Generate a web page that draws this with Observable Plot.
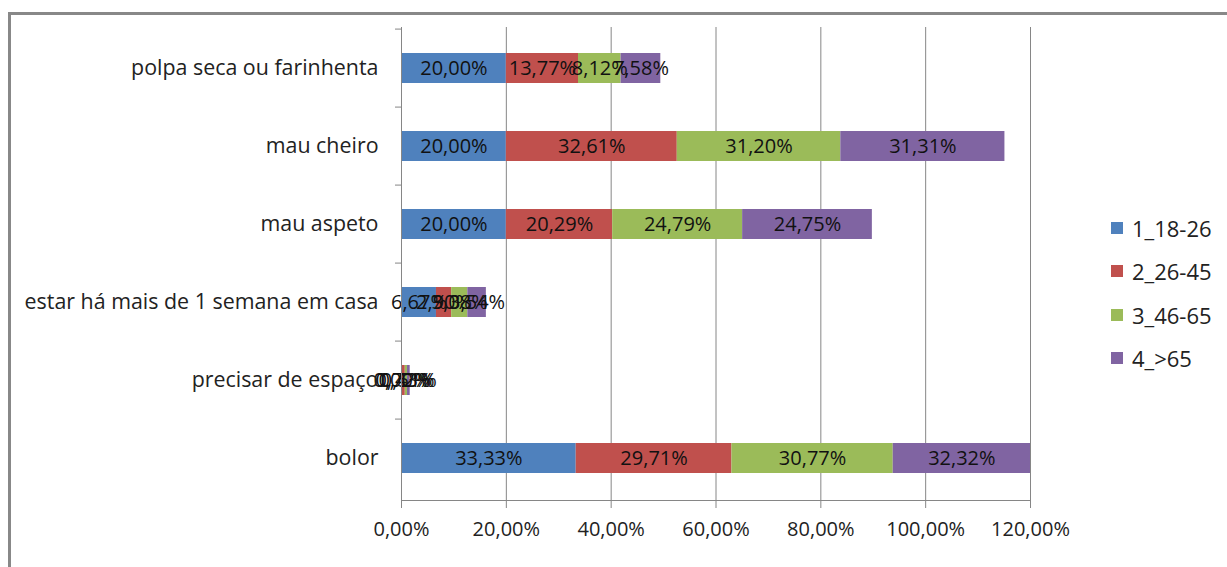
<!DOCTYPE html>
<html>
<head>
<meta charset="utf-8">
<script src="https://cdn.jsdelivr.net/npm/d3@7"></script>
<script src="https://cdn.jsdelivr.net/npm/@observablehq/plot@0.6"></script>
<style>
  html, body { margin: 0; padding: 0; background: #fff; }
  #wrap { position: relative; width: 1227px; height: 567px; overflow: hidden; font-family: "Open Sans", sans-serif; }
  #chart { position: absolute; left: 0; top: 0; }
  #border { position: absolute; left: 8px; top: 12px; width: 1300px; height: 700px; border: 3px solid #888; box-sizing: border-box; pointer-events: none; }
  #legend { position: absolute; left: 1111px; top: 206px; }
  .item { display: flex; align-items: center; height: 43.5px; font-size: 22px; color: #222; }
  .sw { width: 12px; height: 12px; margin-right: 9px; }
</style>
</head>
<body>
<div id="wrap">
  <div id="chart"></div>
  <div id="border"></div>
  <div id="legend"></div>
</div>
<script>
const categories = ["polpa seca ou farinhenta", "mau cheiro", "mau aspeto", "estar há mais de 1 semana em casa", "precisar de espaço", "bolor"];
const series = ["1_18-26", "2_26-45", "3_46-65", "4_>65"];
const colors = ["#4F81BD", "#C0504D", "#9BBB59", "#8064A2"];
const v1 = [20.00, 20.00, 20.00, 6.67, 0.00, 33.33];
const v2 = [13.77, 32.61, 20.29, 2.90, 0.72, 29.71];
const v3 = [8.12, 31.20, 24.79, 3.08, 0.43, 30.77];
const v4 = [7.58, 31.31, 24.75, 3.54, 0.51, 32.32];
const xTicks = [0, 20, 40, 60, 80, 100, 120];

const xMax = xTicks[xTicks.length - 1];
const fmt = d => d.toFixed(2).replace(".", ",") + "%";

const rows = [];
categories.forEach((c, i) => {
  let acc = 0;
  [v1, v2, v3, v4].forEach((arr, j) => {
    const x1 = acc, x2 = acc + arr[i];
    acc = x2;
    rows.push({cat: c, s: series[j], v: arr[i], x1, x2, mid: (x1 + Math.min(x2, xMax)) / 2});
  });
});

const W = 1227, H = 567, mT = 27, mB = 67;
const step = (H - mT - mB) / categories.length;

const chart = Plot.plot({
  width: W, height: H,
  marginLeft: 401, marginRight: 197, marginTop: mT, marginBottom: mB,
  style: {fontFamily: "Open Sans", fontSize: "20px", color: "#222", background: "transparent", overflow: "visible"},
  x: {domain: [0, xMax], label: null},
  y: {domain: categories, paddingInner: 0.61, paddingOuter: 0.305, label: null},
  color: {domain: series, range: colors},
  marks: [
    Plot.ruleX(xTicks.slice(1), {stroke: "#868686", strokeOpacity: 1}),
    Plot.barX(rows, {x1: "x1", x2: "x2", y: "cat", fill: "s", clip: true}),
    Plot.text(rows, {x: "mid", y: "cat", text: d => fmt(d.v), fill: "#111", fontSize: 20}),
    Plot.ruleX([0], {stroke: "#868686", strokeOpacity: 1}),
    Plot.frame({anchor: "bottom", stroke: "#868686", strokeOpacity: 1}),
    Plot.axisX({ticks: xTicks, tickFormat: fmt, tickSize: 8, tickPadding: 13, label: null, stroke: "#868686", strokeOpacity: 1, fontSize: 20}),
    Plot.axisY({tickSize: 0, tickPadding: 23, label: null, fontSize: 21.4}),
    Plot.axisY({tickSize: 6, text: null, label: null, dy: -step / 2, stroke: "#868686", strokeOpacity: 1})
  ]
});
document.getElementById("chart").appendChild(chart);

const legend = document.getElementById("legend");
series.forEach((s, j) => {
  const it = document.createElement("div");
  it.className = "item";
  const sw = document.createElement("span");
  sw.className = "sw";
  sw.style.background = colors[j];
  const t = document.createElement("span");
  t.textContent = s;
  it.appendChild(sw); it.appendChild(t);
  legend.appendChild(it);
});
</script>
</body>
</html>
